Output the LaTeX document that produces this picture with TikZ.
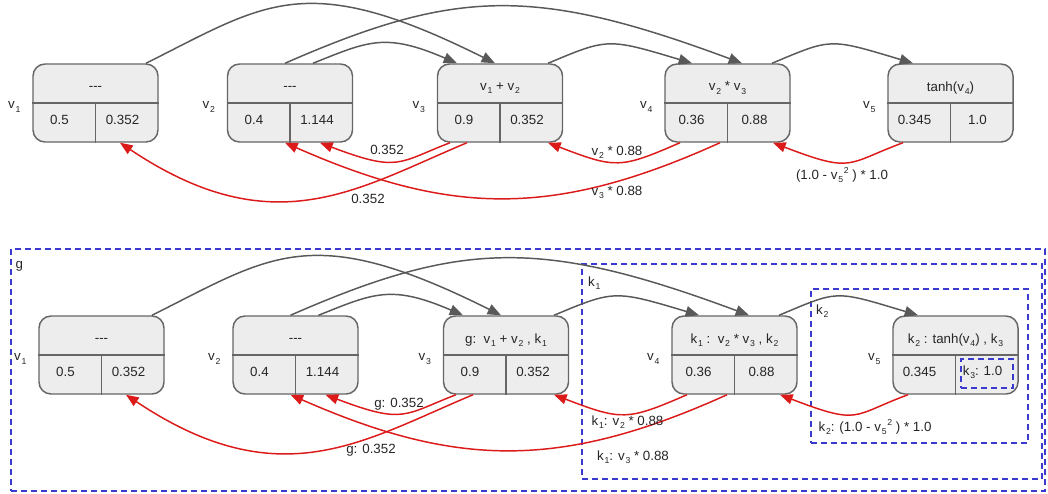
\documentclass[tikz,border=0pt]{standalone}
\usepackage{fontspec}
\setmainfont{Liberation Sans}
\usetikzlibrary{arrows.meta,calc}
\definecolor{boxfill}{HTML}{EDEDED}
\definecolor{boxline}{HTML}{666666}
\definecolor{fwd}{HTML}{595959}
\definecolor{bwd}{HTML}{DD1A1A}
\definecolor{grp}{HTML}{3A3AD0}
\newcommand\lowsub[1]{\kern0.6pt\raisebox{-2.4pt}{\fontsize{6.5}{7}\selectfont #1}}
\newcommand\highsup[1]{\kern0.6pt\raisebox{4pt}{\fontsize{6.5}{7}\selectfont #1}}
\newcommand\vv[1]{v\lowsub{#1}}
\newcommand\kk[1]{k\lowsub{#1}}
\newcommand\mkcell[6]{%
  \node[cellbox] (#1) at (#2) {};
  \draw[divline] (#1.west) -- (#1.east);
  \draw[divline] (#1.center) -- (#1.south);
  \node[txt] (#1-op) at ($(#1.center)+(0,-15)$) {#3};
  \node[txt] (#1-val) at ($(#1.center)+(-36,17)$) {#4};
  \node[txt] (#1-grad) at ($(#1.center)+(27,17)$) {#5};
  \node[txt] (#1-name) at ($(#1.west)+(-18,4)$) {#6};
}
\newcommand\drawconns[1]{%
  \draw[fwdarrow] ($(#11.north)+(50.5,0)$) .. controls +(120,-60) and +(-190,-95) .. ($(#13.north)+(-5,0)$);
  \draw[fwdarrow] ($(#12.north)+(-5,0)$) .. controls +(171,-75) and +(-207,-77) .. ($(#14.north)+(14.5,0)$);
  \draw[fwdarrow] ($(#12.north)+(23,0)$) .. controls +(55,-22) and +(-72,-31) .. ($(#13.north)+(-43,0)$);
  \draw[fwdarrow] ($(#13.north)+(48,0)$) .. controls +(60,-25) and +(-85,-25.5) .. ($(#14.north)+(-35.5,0)$);
  \draw[fwdarrow] ($(#14.north)+(44.5,0)$) .. controls +(60,-25) and +(-85,-25.5) .. ($(#15.north)+(-37.5,0)$);
  \draw[bwdarrow] ($(#13.south)+(-33,0)$) .. controls +(-110,46) and +(154,103) .. ($(#11.south)+(24.5,0)$);
  \draw[bwdarrow] ($(#13.south)+(-50,0)$) .. controls +(-52,20) and +(79,30) .. ($(#12.south)+(30,0)$);
  \draw[bwdarrow] ($(#14.south)+(-47.5,0)$) .. controls +(-60,26) and +(68,26) .. ($(#13.south)+(48,0)$);
  \draw[bwdarrow] ($(#14.south)+(-7.5,0)$) .. controls +(-166,75) and +(166,73) .. ($(#12.south)+(-5,0)$);
  \draw[bwdarrow] ($(#15.south)+(-47.5,0)$) .. controls +(-57,21) and +(81,31) .. ($(#14.south)+(45.5,0)$);
}
\begin{document}
\begin{tikzpicture}[x=0.75pt,y=-0.75pt,
  cellbox/.style={rectangle, rounded corners=9pt, draw=boxline, fill=boxfill, line width=1.1pt,
    minimum width=93.75pt, minimum height=58.5pt, inner sep=0pt},
  divline/.style={draw=boxline, line width=1.1pt},
  txt/.style={inner sep=0pt, font=\fontsize{10}{12}\selectfont, text=black!85},
  fwdarrow/.style={draw=fwd, line width=1.1pt, -{Triangle[length=10pt,width=8pt]}},
  bwdarrow/.style={draw=bwd, line width=1.1pt, -{Triangle[length=9.5pt,width=7.5pt]}},
  grpbox/.style={rectangle, draw=grp, line width=1.1pt, dash pattern=on 4.5pt off 3pt, inner sep=0pt}]
\useasboundingbox (0,0) rectangle (1048,493);
\fill[white] (0,0) rectangle (1048,493);

% group frames
\node[grpbox, minimum width=775.5pt, minimum height=181.5pt] (g) at (528,370) {};
\node[grpbox, minimum width=345pt, minimum height=161.25pt] (k1) at (812,371.5) {};
\node[grpbox, minimum width=162.75pt, minimum height=115.5pt] (k2) at (919.5,366) {};
\node[txt] (g-lab) at ($(g.north west)+(9,18)$) {g};
\node[txt] (k1-lab) at ($(k1.north west)+(13,20)$) {\kk1};
\node[txt] (k2-lab) at ($(k2.north west)+(12,23)$) {\kk2};

% top row
\mkcell{t1}{95.5,103}{-{}-{}-}{0.5}{0.352}{\vv1}
\mkcell{t2}{290,103}{-{}-{}-}{0.4}{1.144}{\vv2}
\mkcell{t3}{500,103}{\vv1 + \vv2}{0.9}{0.352}{\vv3}
\mkcell{t4}{727.5,103}{\vv2 * \vv3}{0.36}{0.88}{\vv4}
\mkcell{t5}{950.5,103}{tanh(\vv4)}{0.345}{1.0}{\vv5}
\drawconns{t}
\node[txt] (tl1) at (387,150) {0.352};
\node[txt] (tl2) at (368,199) {0.352};
\node[txt] (tl3) at (617,152) {\vv2 * 0.88};
\node[txt] (tl4) at (617,192) {\vv3 * 0.88};
\node[txt] (tl5) at (842,175) {(1.0 - \vv5\highsup{2} ) * 1.0};

% bottom row
\mkcell{b1}{101.5,355}{-{}-{}-}{0.5}{0.352}{\vv1}
\mkcell{b2}{295.5,355}{-{}-{}-}{0.4}{1.144}{\vv2}
\mkcell{b3}{506,355}{g:\ \ \vv1 + \vv2 , \kk1}{0.9}{0.352}{\vv3}
\mkcell{b4}{734.5,355}{\kk1 :\ \ \vv2 * \vv3 , \kk2}{0.36}{0.88}{\vv4}
\mkcell{b5}{955.5,355}{\kk2 : tanh(\vv4) , \kk3}{0.345}{\kk3: 1.0}{\vv5}
\node[grpbox, minimum width=39pt, minimum height=21.75pt] (k3) at (987,373.5) {};
\drawconns{b}
\node[txt] (bl1) at (399,404) {g: 0.352};
\node[txt] (bl2) at (371,450) {g: 0.352};
\node[txt] (bl3) at (627.5,422) {\kk1: \vv2 * 0.88};
\node[txt] (bl4) at (633,457) {\kk1: \vv3 * 0.88};
\node[txt] (bl5) at (875,427) {\kk2: (1.0 - \vv5\highsup{2} ) * 1.0};
\end{tikzpicture}
\end{document}
